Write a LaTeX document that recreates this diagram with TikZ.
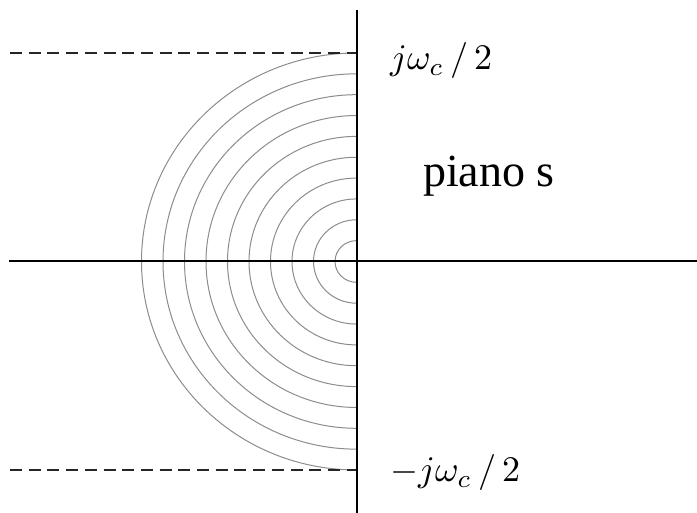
\documentclass[tikz,border=0pt]{standalone}
\usepackage{fontspec}
\newfontfamily\pianofont{Liberation Serif}
\tikzset{
  axis/.style={line width=2pt, black},
  bound/.style={line width=1.6pt, black!85, dash pattern=on 12pt off 6.7pt},
  ring/.style={line width=1pt, black!45},
  lbl/.style={inner sep=0pt, anchor=base west},
}
\begin{document}
\begin{tikzpicture}[x=1pt,y=1pt]
\useasboundingbox (0,0) rectangle (697,513);
% centre
\coordinate (O) at (356.5,251.5);
% axes
\coordinate (vtop) at (356.5,503);
\coordinate (vbot) at (356.5,0);
\coordinate (hl) at (9,251.5);
\coordinate (hr) at (697,251.5);
% concentric half-rings
\foreach \k in {1,...,10}{
  \draw[ring] ([yshift=20.85*\k pt]O) arc[start angle=90, end angle=270, x radius=21.5*\k, y radius=20.85*\k];
}
% dashed bounds
\coordinate (dtl) at (10,460);
\coordinate (dtr) at (356.5,460);
\coordinate (dbl) at (10,43);
\coordinate (dbr) at (356.5,43);
\draw[bound] (dtl) -- (dtr);
\draw[bound] (dbl) -- (dbr);
\draw[axis] (vbot) -- (vtop);
\draw[axis] (hl) -- (hr);
% labels
\node[lbl] (ltop) at (390,443) {\scalebox{3.6}{$j\omega_{c}\mkern3mu/\mkern3mu2$}};
\node[lbl] (lbot) at (390,31) {\scalebox{3.6}{$-j\omega_{c}\mkern3mu/\mkern3mu2$}};
\node[lbl, font=\fontsize{46}{50}\pianofont] (plane) at (423,326) {piano s};
\end{tikzpicture}
\end{document}
